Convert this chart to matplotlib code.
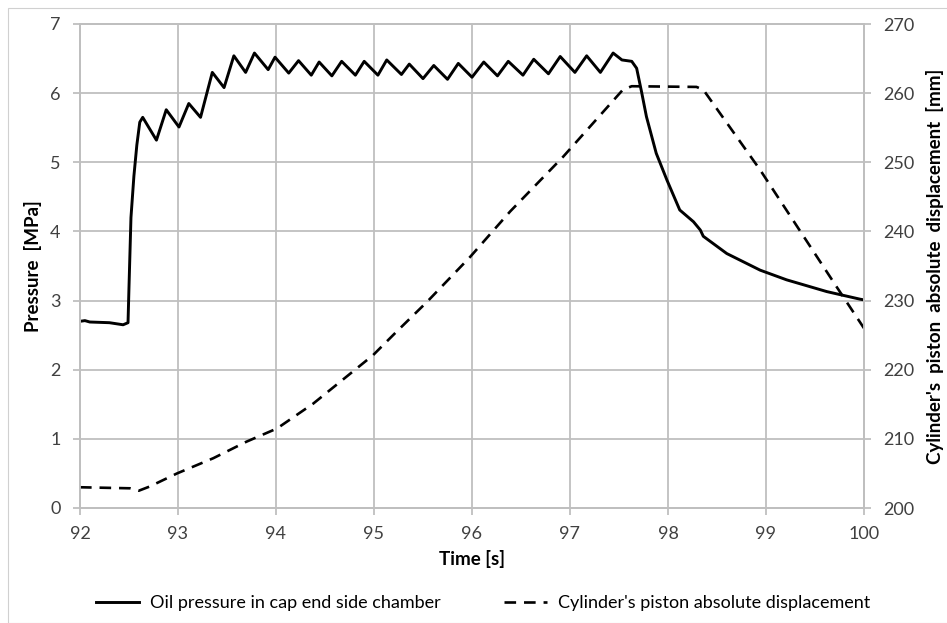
import matplotlib.pyplot as plt
from matplotlib.patches import Rectangle

# pressure in the cap end side chamber [MPa]
time_p = [92.0, 92.05, 92.1, 92.3, 92.44, 92.49, 92.5, 92.52, 92.55, 92.58,
          92.61, 92.64, 92.78, 92.88, 93.01, 93.11, 93.23, 93.35, 93.47, 93.57,
          93.69, 93.78, 93.92, 93.99, 94.13, 94.23, 94.36, 94.44, 94.57, 94.67,
          94.81, 94.90, 95.04, 95.13, 95.28, 95.36, 95.50, 95.61, 95.75, 95.86,
          96.00, 96.12, 96.26, 96.37, 96.52, 96.63, 96.78, 96.90, 97.05, 97.17,
          97.31, 97.44, 97.53, 97.63, 97.68, 97.73, 97.78, 97.88, 97.99, 98.12,
          98.26, 98.33, 98.36, 98.60, 98.94, 99.21, 99.62, 99.96, 100.0]
pressure = [2.70, 2.71, 2.69, 2.68, 2.65, 2.68, 3.2, 4.2, 4.8, 5.25,
            5.58, 5.65, 5.32, 5.76, 5.51, 5.85, 5.65, 6.30, 6.08, 6.54,
            6.30, 6.58, 6.34, 6.52, 6.29, 6.47, 6.26, 6.45, 6.25, 6.46,
            6.26, 6.46, 6.26, 6.48, 6.27, 6.42, 6.21, 6.40, 6.20, 6.43,
            6.23, 6.45, 6.25, 6.46, 6.26, 6.49, 6.28, 6.53, 6.30, 6.54,
            6.30, 6.58, 6.48, 6.46, 6.36, 6.02, 5.66, 5.13, 4.74, 4.31,
            4.14, 4.02, 3.93, 3.68, 3.44, 3.30, 3.13, 3.02, 3.01]

# piston absolute displacement [mm]
time_d = [92.0, 92.51, 92.60, 92.71, 92.99, 93.36, 93.70, 94.01, 94.38, 94.72,
          94.99, 95.23, 95.54, 95.98, 96.39, 96.93, 97.54, 97.63, 98.29, 98.36,
          98.94, 99.72, 100.0]
displacement = [203.0, 202.85, 202.5, 203.1, 205.0, 207.2, 209.6, 211.5, 215.1, 219.0,
                222.1, 225.5, 229.8, 236.3, 242.9, 250.8, 260.5, 261.0, 260.9, 260.5,
                248.9, 232.0, 226.0]

x_ticks = list(range(92, 101))
p_ticks = list(range(0, 8))
d_ticks = list(range(200, 271, 10))

plt.rcParams["font.family"] = ["Lato", "DejaVu Sans"]
grid_col = "#bfbfbf"
tick_col = "#404040"

fig = plt.figure(figsize=(9.47, 6.23), dpi=100)
fig.patches.append(Rectangle((8 / 947, 0.0), 1.0, 1 - 8 / 623, transform=fig.transFigure,
                             fill=False, edgecolor="#d0d0d0", linewidth=0.8))
ax = fig.add_axes([80 / 947, 1 - 508 / 623, 784 / 947, 484 / 623])
ax2 = ax.twinx()

(l1,) = ax.plot(time_p, pressure, color="black", lw=2.1, solid_joinstyle="round",
                label="Oil pressure in cap end side chamber")
(l2,) = ax2.plot(time_d, displacement, color="black", lw=1.9, linestyle=(0, (4.4, 3.0)),
                 label="Cylinder's piston absolute displacement")

ax.set_xlim(92, 100)
ax.set_ylim(0, 7)
ax2.set_ylim(200, 270)
ax.set_xticks(x_ticks)
ax.set_yticks(p_ticks)
ax2.set_yticks(d_ticks)

ax.grid(True, color=grid_col, lw=1.3)
ax.set_axisbelow(True)
for a in (ax, ax2):
    for s in a.spines.values():
        s.set_color(grid_col)
        s.set_linewidth(1.3)
    a.tick_params(colors=grid_col, labelcolor=tick_col, labelsize=13, length=5,
                  width=1.3, pad=9)
ax.tick_params(axis="x", pad=8)

ax.set_xlabel("Time [s]", fontsize=13.5, fontweight="bold", labelpad=6)
ax.set_ylabel("Pressure  [MPa]", fontsize=13.5, fontweight="bold", labelpad=6)
ax2.set_ylabel("Cylinder's  piston  absolute  displacement  [mm]", fontsize=13.5,
               fontweight="bold", labelpad=8)

fig.legend([l1, l2], [l1.get_label(), l2.get_label()], loc="center",
           bbox_to_anchor=(483 / 947, 1 - 603 / 623), ncol=2, frameon=False,
           fontsize=13, handlelength=2.4, columnspacing=3.5, handletextpad=0.6)

fig.savefig("out.png", dpi=100)
